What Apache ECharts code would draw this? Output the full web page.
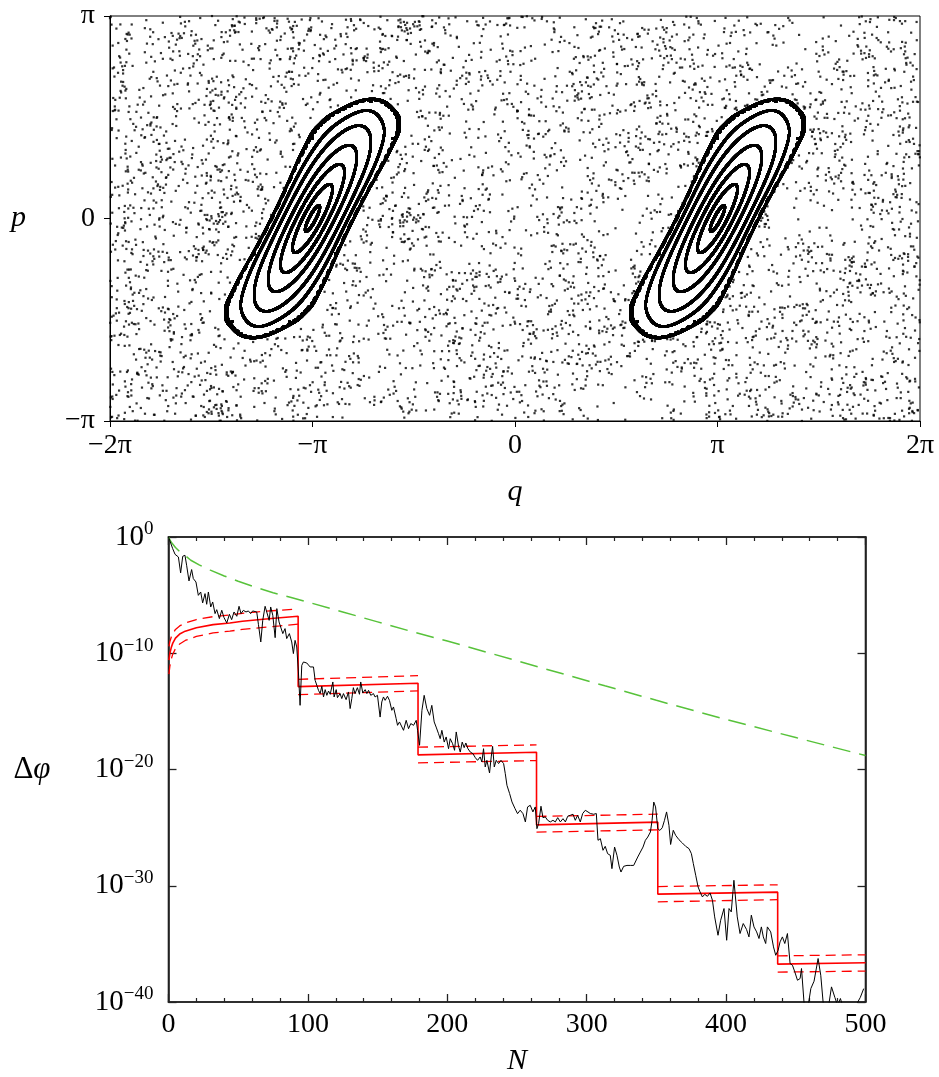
<!DOCTYPE html>
<html>
<head>
<meta charset="utf-8">
<script src="https://cdn.jsdelivr.net/npm/echarts@6.0.0/dist/echarts.min.js"></script>
<style>
  html, body { margin: 0; padding: 0; background: #fff; }
  #chart { width: 939px; height: 1077px; }
</style>
</head>
<body>
<div id="chart"></div>
<script>
// ---------- Upper panel: Poincaré section of the kicked rotor (standard map) ----------
const KICK = 3.0;                                   // kick strength K
const islandCentres = [-Math.PI, Math.PI];          // elliptic fixed points (q, p = 0)
// starting momenta on the vertical line through each centre; 1.24 sits in the 2/7 resonance chain
const islandStartP = [0.1, 0.27, 0.44, 0.62, 0.84, 1.05, 1.24, 1.30, 1.34];
const islandIterations = 3000;
const chaosStart = [0.05, 0.05];
const chaosIterations = 4500;

// ---------- Lower panel: convergence of the phase error (exponents of ten) ----------
const blackN = [0, 3.0, 4.7, 7.1, 8.7, 10.2, 11.8, 13.0, 14.7, 16.6, 17.8, 19.7, 21.4, 23.1, 24.5, 26.2, 27.4, 28.6, 30.3, 31.7, 33.4, 34.6, 36.5, 38.2, 39.8, 41.8, 43.7, 45.3, 47.0, 49.0, 50.6, 52.0, 53.7, 55.6, 57.3, 58.9, 60.4, 63.3, 64.5, 66.2, 67.6, 69.3, 70.5, 72.2, 73.3, 74.8, 76.5, 77.7, 79.3,
  82.0, 83.6, 84.8, 86.7, 88.4, 89.6, 90.8, 92.0, 93.2, 94.4, 95.6, 96.8, 99.2, 101.6, 102.8, 104.0, 105.2, 106.4, 107.6, 108.8, 110.0, 111.2, 112.4, 113.6, 114.8, 116.0, 117.9, 118.8, 120.3, 121.2, 123.1, 124.3, 125.5, 127.4, 129.1, 130.3, 131.5, 132.6, 133.8, 135.5, 137.0, 137.9, 139.4, 141.1, 142.3, 143.5, 145.1, 147.0, 148.2, 149.9, 151.8, 153.0, 154.2, 155.4, 157.1, 158.5, 160.2, 161.4, 163.3, 164.3, 165.7,
  168.6, 170.5, 172.2, 173.8, 175.8, 177.7, 178.7, 180.1, 181.8, 183.4, 185.3, 187.3, 188.9, 190.6, 192.0, 193.7, 194.9, 196.1, 197.8, 199.2, 200.9, 202.1, 203.8, 205.2, 206.4, 208.1, 209.3, 210.7, 212.1, 213.3, 214.8, 216.5, 218.4, 220.1, 221.7, 223.6, 224.8, 226.0, 227.2, 228.4, 230.3, 231.5, 232.5, 233.7, 235.1, 236.8, 238.5, 240.4, 241.6, 242.8, 244.7, 246.4, 248.6, 250.4,
  252.3, 254.3, 256.0, 257.6, 259.5, 261.4, 263.1, 264.3, 265.5, 267.2, 268.6, 270.3, 272.0, 273.9, 275.8, 277.5, 279.2, 281.1, 283.0, 284.7, 286.4, 288.2, 290.2, 291.8, 293.5, 295.4, 297.1, 299.0, 300.9, 302.6, 305.0, 306.9, 308.1, 309.8, 311.7, 313.3, 315.0, 316.9, 318.1, 320.0, 321.7, 323.4, 324.6, 326.5, 328.9, 331.3, 333.7, 334.9, 336.6, 338.5, 340.4, 342.1, 343.8, 345.7, 346.9, 348.1, 349.4,
  351.0, 352.5, 354.2, 355.8, 357.3, 358.2, 359.0, 360.2, 362.1, 363.8, 366.2, 368.6, 371.0, 373.4, 375.1, 376.5, 378.2, 379.9, 381.3, 383.0, 384.7, 386.6, 388.5, 390.2, 391.8, 394.2, 396.1, 398.5, 400.4, 402.1, 403.7, 405.6, 408.0, 410.0, 412.3, 414.7, 416.4, 418.1, 420.0, 421.9, 423.6, 425.3, 426.7, 428.4, 429.6, 432.0, 434.0, 435.6, 437.3, 438.7, 440.4, 442.1, 444.0, 445.9, 447.6, 449.3, 451.2, 453.1, 454.1, 456.0, 458.0, 460.8, 463.1, 466.0, 467.9, 469.8, 472.7, 475.6, 478.0, 480.0, 482.0, 484.0, 488.0, 492.0, 494.0, 496.3, 498.7, 500.0];
const blackExp = [0, -1.0, -1.49, -1.72, -3.09, -1.66, -1.57, -2.43, -3.78, -2.8, -3.58, -3.87, -5.02, -4.73, -5.67, -4.87, -5.79, -4.73, -6.02, -5.59, -6.59, -6.25, -7.02, -6.3, -6.93, -7.39, -6.65, -7.11, -6.45, -6.82, -5.96, -6.59, -6.31, -6.45, -6.36, -6.59, -6.36, -6.45, -7.51, -9.03, -7.17, -5.96, -5.79, -7.17, -6.02, -6.73, -8.66, -6.16, -7.31,
  -8.31, -7.88, -8.74, -8.31, -9.03, -10.03, -8.89, -9.46, -11.61, -14.48, -11.04, -10.75, -10.84, -11.18, -11.33, -11.18, -12.33, -12.76, -13.19, -13.47, -12.84, -13.76, -13.13, -13.62, -13.25, -13.53, -12.47, -13.76, -13.13, -13.82, -13.47, -13.9, -13.47, -13.99, -13.33, -14.76, -13.9, -12.96, -13.47, -12.96, -13.53, -12.47, -13.42, -13.13, -13.47, -13.19, -13.62, -13.47, -13.76, -13.62, -15.49, -14.19, -13.76, -14.05, -13.7, -14.05, -14.91, -14.62, -15.62, -16.2, -15.91,
  -16.63, -15.77, -16.49, -16.05, -16.2, -15.77, -16.63, -17.92, -14.91, -13.62, -14.76, -15.34, -14.48, -15.91, -16.35, -16.92, -17.35, -16.63, -17.64, -17.2, -18.21, -17.35, -17.78, -18.35, -16.77, -18.01, -18.5, -17.64, -18.12, -17.72, -18.21, -18.5, -18.64, -18.98, -19.21, -18.92, -19.35, -18.21, -19.78, -19.21, -20.3, -18.92, -18.01, -19.78, -19.21, -19.49, -19.21, -19.49, -20.36, -21.36, -22.07, -22.79, -23.37, -23.8,
  -23.5, -23.8, -24.51, -23.22, -23.08, -23.65, -23.22, -25.09, -24.66, -23.16, -24.14, -24.08, -24.37, -24.51, -24.37, -24.51, -24.14, -24.51, -24.23, -24.51, -24.02, -23.94, -23.85, -24.37, -23.94, -24.51, -23.79, -23.51, -23.65, -23.79, -23.85, -23.79, -26.09, -25.95, -26.95, -26.61, -27.24, -27.38, -28.53, -26.67, -27.38, -28.39, -28.82, -28.33, -28.25, -28.25, -28.25, -28.1, -27.53, -27.1, -26.67, -26.09, -25.81, -25.38, -24.37, -22.8, -23.22,
  -25.09, -25.24, -25.01, -24.37, -23.65, -23.8, -24.8, -26.45, -25.23, -25.66, -26.04, -26.32, -26.61, -26.81, -27.24, -28.1, -29.1, -30.1, -30.53, -30.96, -30.74, -30.91, -30.62, -31.25, -32.68, -34.26, -32.97, -31.96, -34.69, -31.96, -32.25, -29.53, -32.68, -34.11, -33.25, -33.77, -34.4, -32.53, -33.54, -33.97, -34.54, -33.54, -34.4, -34.97, -33.54, -33.97, -35.26, -35.98, -35.55, -34.83, -34.4, -34.97, -34.11, -36.69, -36.84, -37.41, -38.13, -37.98, -37.12, -40.2, -41, -38.84, -38.21, -36.26, -37.7, -40.3, -41, -38.7, -39.6, -40.3, -39.7, -40.5, -41, -41, -40.1, -39.6, -38.85, -39.0];

// red estimate: first (rising) stage, then nearly flat stages between resets
const firstStageN = [0.3, 1, 2, 3, 5, 8, 12, 20, 32, 44, 53, 68, 80, 93];
const firstStageMid = [-10.6, -10.0, -9.5, -9.15, -8.7, -8.35, -8.1, -7.8, -7.54, -7.4, -7.25, -7.08, -6.95, -6.82];
const firstStageHigh = [-9.4, -9.0, -8.6, -8.35, -7.95, -7.65, -7.4, -7.1, -6.85, -6.7, -6.57, -6.4, -6.3, -6.2];
const firstStageLow = [-11.8, -11.1, -10.5, -10.1, -9.6, -9.2, -8.9, -8.55, -8.25, -8.1, -7.95, -7.78, -7.65, -7.5];
const stageStart = [93, 179, 264, 351, 437];
const stageEnd = [179, 264, 351, 437, 500];
const stageMidStart = [-12.87, -18.74, -24.76, -30.72, -36.74];
const stageMidEnd = [-12.58, -18.51, -24.53, -30.55, -36.63];
const stageHighStart = [-12.24, -18.08, -24.04, -30.07, -36.03];
const stageHighEnd = [-11.93, -17.88, -23.84, -29.92, -35.94];
const stageLowStart = [-13.56, -19.43, -25.39, -31.38, -37.43];
const stageLowEnd = [-13.24, -19.23, -25.19, -31.2, -37.34];

// green reference decay
const greenN = [0, 2, 5, 8, 12, 16, 22, 30, 40, 50, 62, 75, 88, 100, 125, 150, 175, 200, 250, 313, 350, 400, 450, 500];
const greenExp = [0, -0.45, -0.9, -1.25, -1.6, -2.0, -2.4, -2.85, -3.35, -3.8, -4.3, -4.8, -5.2, -5.6, -6.45, -7.3, -8.15, -8.95, -10.65, -12.8, -14.05, -15.7, -17.25, -18.8];

// ---------- phase-space orbits ----------
function wrap(x, lo, span) { return x - span * Math.floor((x - lo) / span); }
function standardMapOrbit(q0, p0, n) {
  const pts = [];
  let q = q0, p = p0;
  for (let i = 0; i < n; i++) {
    p = wrap(p + KICK * Math.sin(q), -Math.PI, 2 * Math.PI);
    q = wrap(q + p, -2 * Math.PI, 4 * Math.PI);
    pts.push([q / Math.PI, p / Math.PI]);   // plotted in units of pi
  }
  return pts;
}
const islandPts = [];
islandCentres.forEach(c => islandStartP.forEach(p0 => {
  standardMapOrbit(c, p0, islandIterations).forEach(pt => islandPts.push(pt));
}));
const chaosPts = standardMapOrbit(chaosStart[0], chaosStart[1], chaosIterations);

// ---------- lower-panel series ----------
const zip = (xs, ys) => xs.map((x, i) => [x, ys[i]]);
const blackData = zip(blackN, blackExp);
const redSolid = zip(firstStageN, firstStageMid);
stageStart.forEach((s, i) => { redSolid.push([s, stageMidStart[i]], [stageEnd[i], stageMidEnd[i]]); });
const greenData = zip(greenN, greenExp);

const SERIF = '"Liberation Serif", "DejaVu Serif", serif';
const piLabel = m => (m === 0 ? '0' : (m < 0 ? '−' : '') + (Math.abs(m) === 1 ? '' : Math.abs(m)) + 'π');
const powLabel = v => '{b|10}{s|' + (v === 0 ? '0' : '−' + Math.abs(v)) + '}';

const redDashStyle = { color: '#ff0000', width: 1.3, type: [10, 6] };
const dashedSeries = [];
function addDashed(data) {
  dashedSeries.push({
    type: 'line', xAxisIndex: 1, yAxisIndex: 1, data, showSymbol: false,
    lineStyle: redDashStyle, silent: true, z: 3
  });
}
addDashed(zip(firstStageN, firstStageHigh));
addDashed(zip(firstStageN, firstStageLow));
stageStart.forEach((s, i) => {
  addDashed([[s, stageHighStart[i]], [stageEnd[i], stageHighEnd[i]]]);
  addDashed([[s, stageLowStart[i]], [stageEnd[i], stageLowEnd[i]]]);
});

const chart = echarts.init(document.getElementById('chart'), null, { renderer: 'canvas' });
const frameAxis = { onZero: false, lineStyle: { color: '#000', width: 1 } };
const lowerFrame = { onZero: false, lineStyle: { color: '#222', width: 1.6 } };
const tickFont = { fontFamily: SERIF, fontSize: 28, color: '#000' };
const lowerTick = { inside: true, length: 8, lineStyle: { color: '#222', width: 1.3 } };
const lowerMinor = { show: true, splitNumber: 5, length: 4, lineStyle: { color: '#222', width: 1.2 } };

chart.setOption({
  animation: false,
  backgroundColor: '#fff',
  grid: [
    { left: 110, top: 16, width: 810, height: 405, show: true, borderColor: '#000', borderWidth: 1, outerBoundsMode: 'none', containLabel: false },
    { left: 168.5, top: 537, width: 697, height: 465, show: true, borderColor: '#222', borderWidth: 1.6, outerBoundsMode: 'none', containLabel: false }
  ],
  xAxis: [
    {
      gridIndex: 0, type: 'value', min: -2, max: 2, interval: 1,
      axisLine: frameAxis,
      axisTick: { inside: false, length: 6, lineStyle: { color: '#000' } },
      axisLabel: Object.assign({ formatter: v => piLabel(Math.round(v)), margin: 11 }, tickFont),
      splitLine: { show: false },
      name: 'q', nameLocation: 'middle', nameGap: 56,
      nameTextStyle: { fontFamily: SERIF, fontStyle: 'italic', fontSize: 30, color: '#000' }
    },
    {
      gridIndex: 1, type: 'value', min: 0, max: 500, interval: 100,
      axisLine: lowerFrame, axisTick: lowerTick, minorTick: lowerMinor,
      axisLabel: Object.assign({ margin: 9 }, tickFont),
      splitLine: { show: false }, minorSplitLine: { show: false },
      name: 'N', nameLocation: 'middle', nameGap: 44,
      nameTextStyle: { fontFamily: SERIF, fontStyle: 'italic', fontSize: 30, color: '#000' }
    },
    {
      gridIndex: 1, type: 'value', position: 'top', min: 0, max: 500, interval: 100,
      axisLine: lowerFrame, axisTick: lowerTick, minorTick: lowerMinor,
      axisLabel: { show: false }, splitLine: { show: false }, minorSplitLine: { show: false }
    }
  ],
  yAxis: [
    {
      gridIndex: 0, type: 'value', min: -1, max: 1, interval: 1,
      axisLine: frameAxis,
      axisTick: { inside: false, length: 6, lineStyle: { color: '#000' } },
      axisLabel: Object.assign({ formatter: v => piLabel(Math.round(v)), margin: 15 }, tickFont),
      splitLine: { show: false },
      name: 'p', nameLocation: 'middle', nameRotate: 0, nameGap: 84,
      nameTextStyle: { fontFamily: SERIF, fontStyle: 'italic', fontSize: 30, color: '#000' }
    },
    {
      gridIndex: 1, type: 'value', min: -40, max: 0, interval: 10,
      axisLine: lowerFrame, axisTick: lowerTick,
      axisLabel: {
        formatter: powLabel, margin: 15, color: '#000',
        rich: {
          b: { fontFamily: SERIF, fontSize: 29, color: '#000', lineHeight: 34, verticalAlign: 'middle' },
          s: { fontFamily: SERIF, fontSize: 19, color: '#000', lineHeight: 20, verticalAlign: 'top' }
        }
      },
      splitLine: { show: false },
      name: '{d|Δ}{f|φ}', nameLocation: 'middle', nameRotate: 0, nameGap: 118,
      nameTextStyle: {
        rich: {
          d: { fontFamily: SERIF, fontSize: 31, color: '#000' },
          f: { fontFamily: SERIF, fontStyle: 'italic', fontSize: 31, color: '#000' }
        }
      }
    },
    {
      gridIndex: 1, type: 'value', position: 'right', min: -40, max: 0, interval: 10,
      axisLine: lowerFrame, axisTick: lowerTick,
      axisLabel: { show: false }, splitLine: { show: false }
    }
  ],
  series: [
    {
      type: 'scatter', xAxisIndex: 0, yAxisIndex: 0, data: chaosPts,
      symbol: 'rect', symbolSize: 2.2, itemStyle: { color: '#000' }, silent: true, large: true, largeThreshold: 100
    },
    {
      type: 'scatter', xAxisIndex: 0, yAxisIndex: 0, data: islandPts,
      symbol: 'circle', symbolSize: 2.2, itemStyle: { color: '#000' }, silent: true, large: true, largeThreshold: 100
    },
    {
      type: 'line', xAxisIndex: 1, yAxisIndex: 1, data: greenData, showSymbol: false,
      lineStyle: { color: '#57c23a', width: 1.5, type: [18, 9] }, silent: true, z: 2
    },
    ...dashedSeries,
    {
      type: 'line', xAxisIndex: 1, yAxisIndex: 1, data: redSolid, showSymbol: false,
      lineStyle: { color: '#ff0000', width: 1.6 }, silent: true, z: 4
    },
    {
      type: 'line', xAxisIndex: 1, yAxisIndex: 1, data: blackData, showSymbol: false, clip: true,
      lineStyle: { color: '#000', width: 1 }, silent: true, z: 5
    }
  ]
});
</script>
</body>
</html>
